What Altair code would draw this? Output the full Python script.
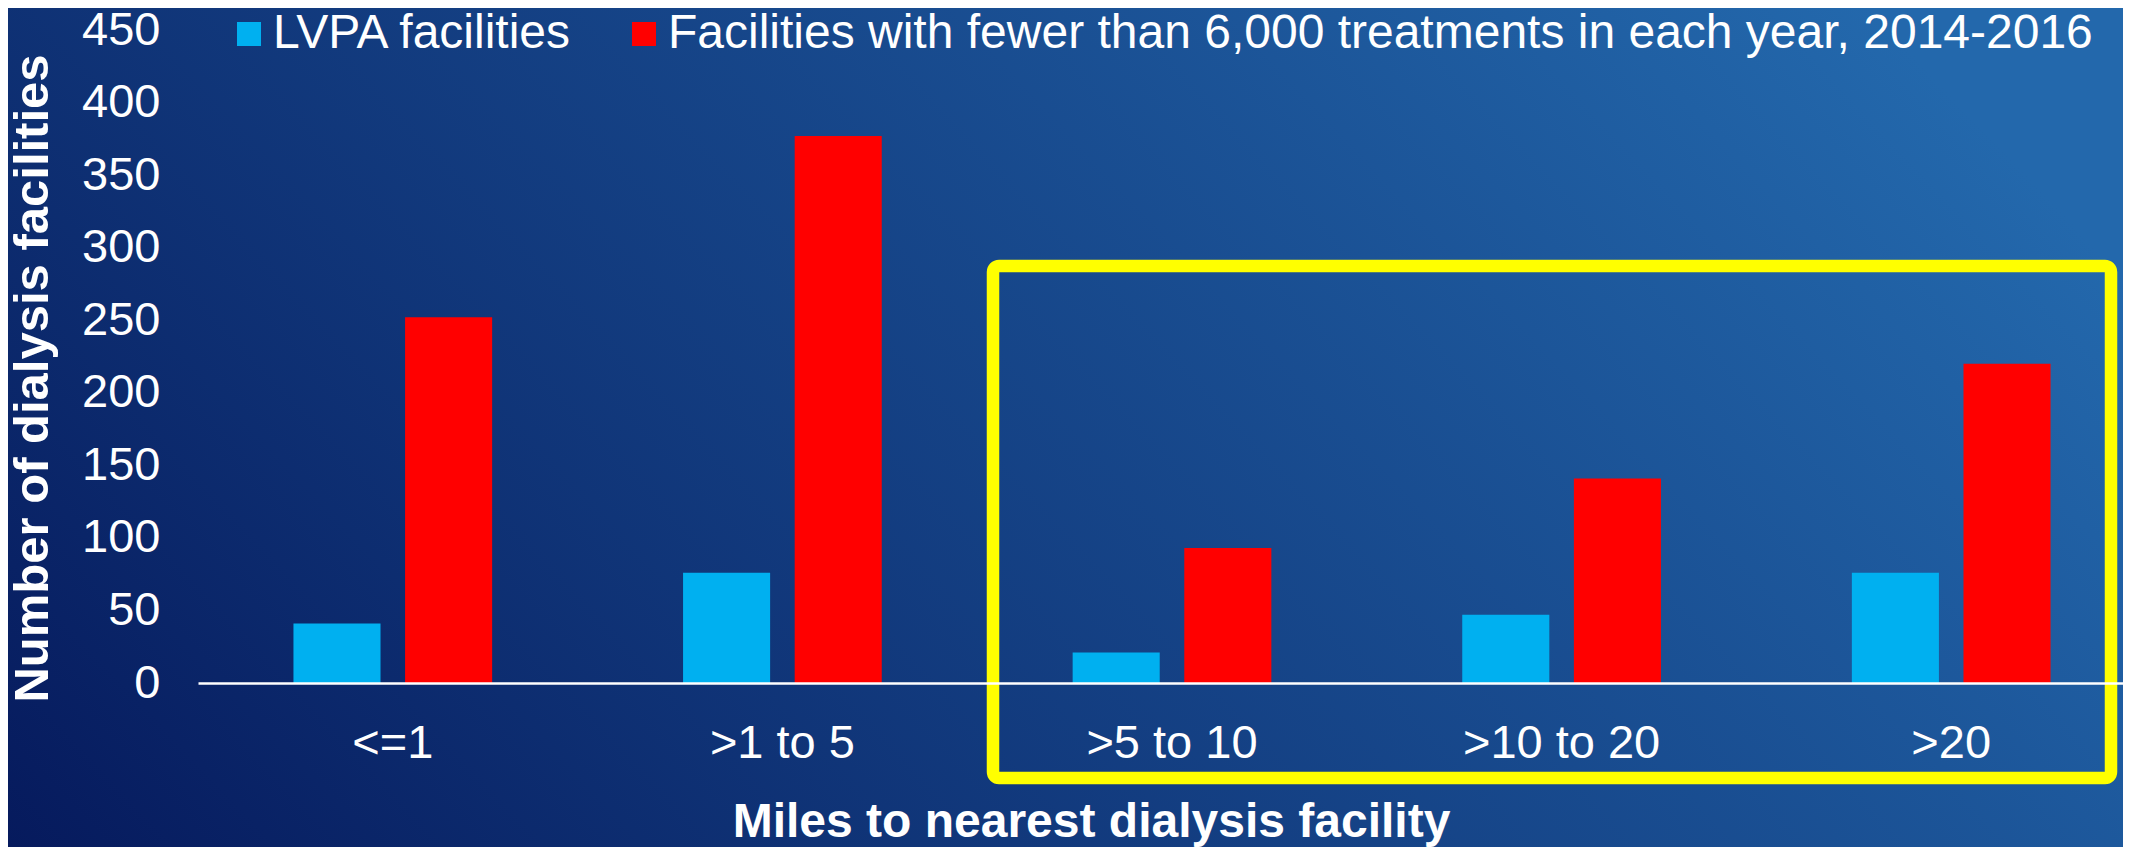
import altair as alt
import pandas as pd

categories = ["<=1", ">1 to 5", ">5 to 10", ">10 to 20", ">20"]
series_names = [
    "LVPA facilities",
    "Facilities with fewer than 6,000 treatments in each year, 2014-2016",
]
lvpa_values = [41, 76, 21, 47, 76]
fewer_values = [252, 377, 93, 141, 220]
y_ticks = [0, 50, 100, 150, 200, 250, 300, 350, 400, 450]
series_colors = ["#00B0F0", "#FF0000"]

rows = []
for c, a, b in zip(categories, lvpa_values, fewer_values):
    rows.append({"category": c, "series": series_names[0], "value": a})
    rows.append({"category": c, "series": series_names[1], "value": b})
df = pd.DataFrame(rows)

W, H = 1925, 653
X_RANGE = 1948
PAD = {"left": 190, "top": 22, "right": 0, "bottom": 164}
one = pd.DataFrame({"k": [0]})

gradient = alt.Gradient(
    gradient="linear",
    x1=0, y1=1, x2=1.1, y2=0.59,
    stops=[
        alt.GradientStop(color="#061a5d", offset=0),
        alt.GradientStop(color="#2368ac", offset=1),
    ],
)

background = alt.Chart(one).mark_rect(color=gradient).encode(
    x=alt.value(-PAD["left"]),
    x2=alt.value(W + PAD["right"]),
    y=alt.value(-PAD["top"]),
    y2=alt.value(H + PAD["bottom"]),
)

bars = alt.Chart(df).mark_bar().encode(
    x=alt.X(
        "category:N",
        sort=categories,
        scale=alt.Scale(paddingInner=0.49, paddingOuter=0.245, range=[0, X_RANGE]),
        axis=alt.Axis(
            title="Miles to nearest dialysis facility",
            labelFontSize=47,
            labelColor="white",
            labelAngle=0,
            labelBaseline="middle",
            labelPadding=60,
            labelLimit=1000,
            ticks=False,
            tickSize=0,
            domainColor="white",
            domainWidth=2.5,
            grid=False,
            titleFontSize=48,
            titleFontWeight="bold",
            titleColor="white",
            titleX=893,
            titleY=139,
            titleAlign="center",
            titleBaseline="middle",
            zindex=1,
        ),
    ),
    xOffset=alt.XOffset("series:N", sort=series_names, scale=alt.Scale(paddingInner=0.22, paddingOuter=0)),
    y=alt.Y(
        "value:Q",
        scale=alt.Scale(domain=[0, 450], nice=False),
        axis=alt.Axis(
            title="Number of dialysis facilities",
            values=y_ticks,
            labelFontSize=47,
            labelColor="white",
            labelPadding=38,
            ticks=False,
            tickSize=0,
            domain=False,
            grid=False,
            titleFontSize=49,
            titleFontWeight="bold",
            titleColor="white",
            titleX=-166,
            titleY=348,
            titleAngle=270,
            titleAlign="center",
            titleBaseline="middle",
            zindex=1,
        ),
    ),
    color=alt.Color(
        "series:N",
        sort=series_names,
        scale=alt.Scale(domain=series_names, range=series_colors),
        legend=alt.Legend(
            title=None,
            orient="none",
            legendX=27,
            legendY=-20,
            direction="horizontal",
            symbolType="square",
            symbolSize=576,
            symbolStrokeWidth=0,
            symbolOpacity=1,
            labelFontSize=48,
            labelColor="white",
            labelOffset=0,
            columnPadding=47,
            padding=0,
            labelLimit=2000,
        ),
    ),
)

box = alt.Chart(one).mark_rect(
    filled=False, stroke="#FFFF00", strokeWidth=12.5, cornerRadius=6
).encode(
    x=alt.value(795),
    x2=alt.value(1913),
    y=alt.value(236),
    y2=alt.value(748),
)

chart = (
    alt.layer(background, bars, box)
    .properties(width=W, height=H, padding=PAD, autosize=alt.AutoSizeParams(type="none"))
    .configure(font="Liberation Sans", background="#133d85")
    .configure_view(strokeWidth=0)
)

chart.save("out.html", embed_options={"renderer": "svg", "actions": False})
